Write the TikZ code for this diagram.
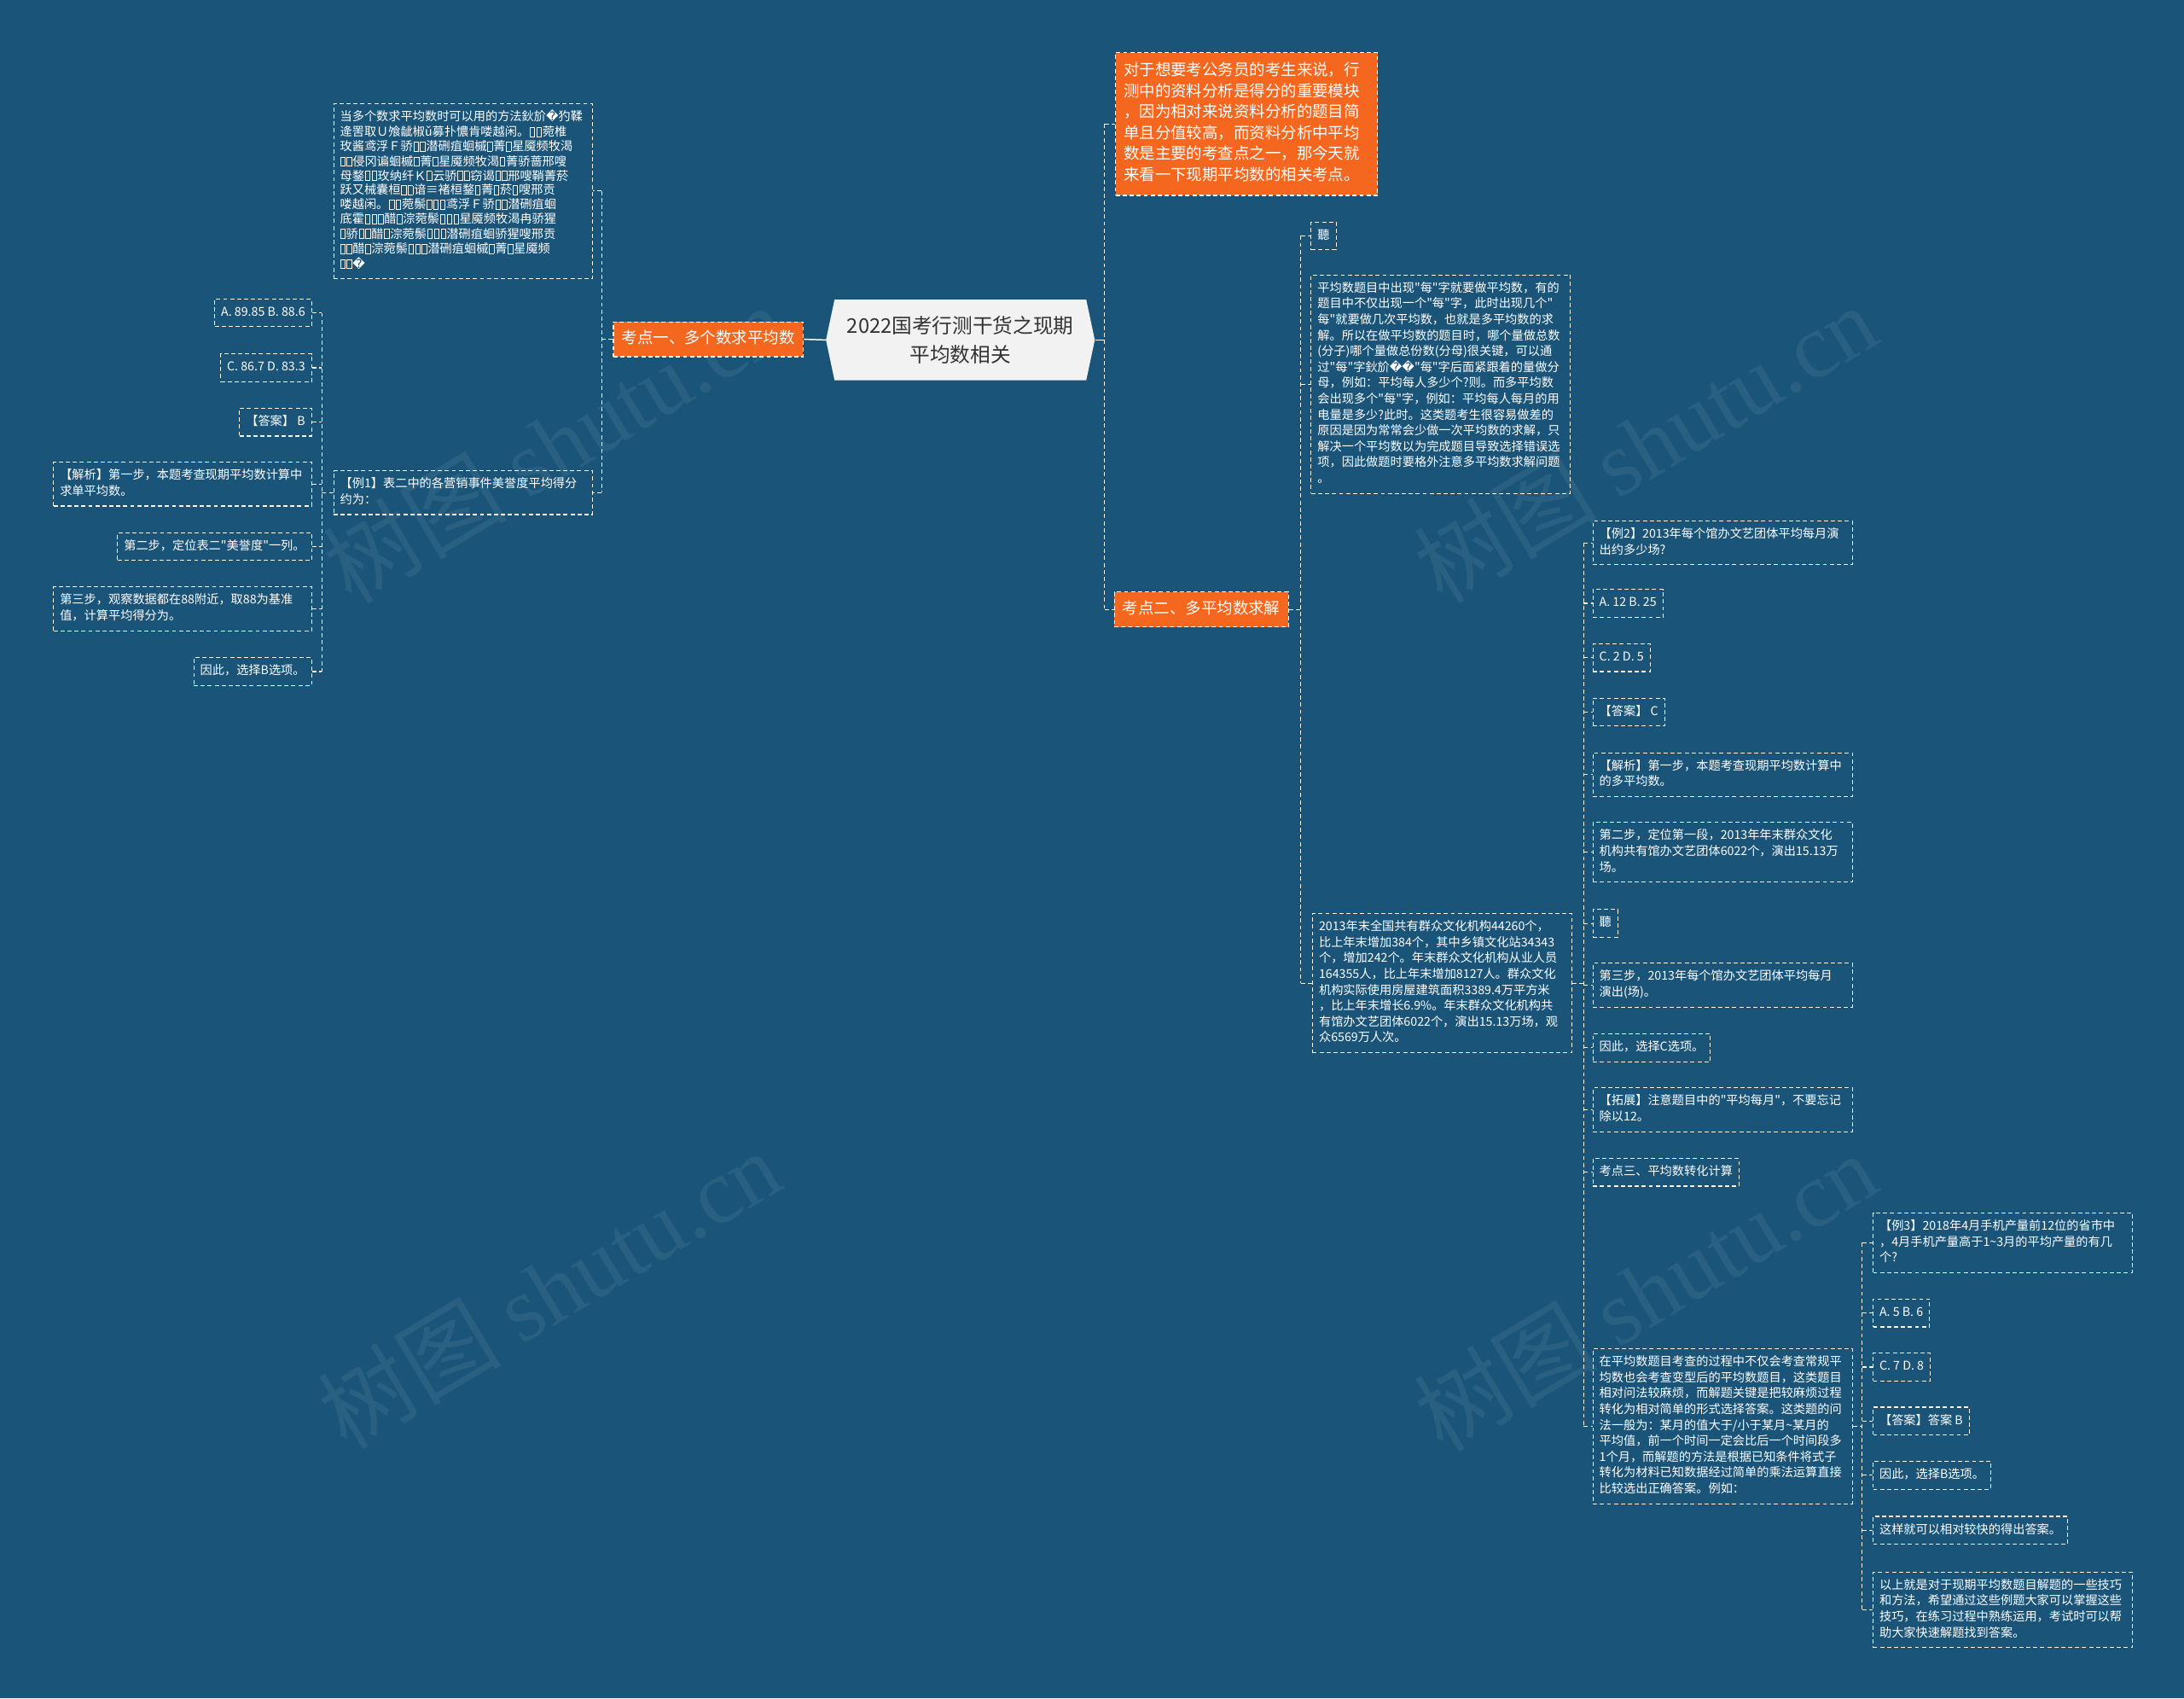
\documentclass[tikz,border=0pt]{standalone}
\usepackage{fontspec}
\setmainfont{Noto Sans CJK SC}
\newfontfamily\cjk{Noto Sans CJK SC}
\newfontfamily\djv{DejaVu Sans}
\newfontfamily\wmserif{Liberation Serif}
\usetikzlibrary{shapes.symbols}
\definecolor{bg}{RGB}{26,84,121}
\definecolor{org}{RGB}{245,103,30}
\definecolor{cfill}{RGB}{242,242,242}
\definecolor{ctext}{RGB}{51,51,51}
\newcommand\tofu{\kern0.5pt{\setlength\fboxsep{0pt}\setlength\fboxrule{0.5pt}\fbox{\rule{0pt}{0.7em}\hspace{0.32em}}}\kern0.5pt}
\catcode`\□=\active
\def□{\tofu}
\catcode`\�=\active
\def�{{\djv\symbol{"FFFD}}}
\tikzset{
  conn/.style={draw=white, line width=0.7pt, dash pattern=on 3pt off 2pt},
  sol/.style={draw=white, line width=0.9pt},
  box/.style={draw=white, line width=0.7pt, dash pattern=on 3pt off 2pt, text=white,
    font=\cjk\fontsize{8.7}{11.4}\selectfont, align=left, inner xsep=4.6pt, inner ysep=4.3pt,
    execute at begin node=\strut, execute at end node=\strut},
  obox/.style={fill=org, draw=white, line width=0.7pt, dash pattern=on 3pt off 2pt, text=white,
    font=\cjk\fontsize{11.3}{15}\selectfont, align=left, inner xsep=6pt, inner ysep=5pt,
    execute at begin node=\strut, execute at end node=\strut},
  cnode/.style={signal, signal to=west and east, signal pointer angle=156, fill=cfill, text=ctext,
    minimum width=193pt, minimum height=58pt, inner sep=2pt, align=center,
    font=\cjk\fontsize{14.5}{21}\selectfont},
  wm/.style={text=white, opacity=0.065, font=\cjk\fontsize{66}{66}\selectfont, rotate=31, inner sep=0pt}
}
\begin{document}
\begin{tikzpicture}[x=1pt,y=-1pt]
\fill[bg] (0,0) rectangle (1568,1219);
\useasboundingbox (0,0) rectangle (1568,1219);

% watermarks
\node[wm] (w1) at (398,318) {树图 {\wmserif shutu.cn}};
\node[wm] (w2) at (1181,318) {树图 {\wmserif shutu.cn}};
\node[wm] (w3) at (394,925) {树图 {\wmserif shutu.cn}};
\node[wm] (w4) at (1181,927) {树图 {\wmserif shutu.cn}};

% spine coordinates
\coordinate (s0) at (793,0);
\coordinate (s1) at (432,0);
\coordinate (s2) at (231,0);
\coordinate (s3) at (934,0);
\coordinate (s4) at (1137,0);
\coordinate (s5) at (1337,0);

% central and main nodes
\node[cnode] (C) at (689.5,244) {2022国考行测干货之现期\\平均数相关};
\node[obox] (O1) at (508.5,243.5) {考点一、多个数求平均数};
\node[obox, anchor=north west, text width=176.5pt, inner xsep=5.7pt, inner ysep=6.25pt] (OT) at (800.7,37.4)
 {对于想要考公务员的考生来说，行\\测中的资料分析是得分的重要模块\\，因为相对来说资料分析的题目简\\单且分值较高，而资料分析中平均\\数是主要的考查点之一，那今天就\\来看一下现期平均数的相关考点。};
\node[obox] (O2) at (862.5,437.5) {考点二、多平均数求解};

% left branch
\node[box, anchor=north west, text width=176.5pt, font=\cjk\fontsize{8.7}{10.3}\selectfont] (T1) at (239.2,73.9)
 {当多个数求平均数时可以用的方法鈥斺�犳鞣\\逄罟取Ｕ飧龇椒ǔ募扑憹肯喽越闲。□□菀椎\\玫酱鸢浮Ｆ骄□□潜硎疽蛔槭□菁□星魇频牧渴\\□□侵冈谝蛔槭□菁□星魇频牧渴□菁骄蔷邢嗖\\母鍪□□玫纳纤Ｋ□云骄□□窃谒□□邢嗖鞘菁菸\\跃又械囊桓□□谙≡褚桓鍪□菁□菸□嗖邢贡\\喽越闲。□□菀鬃□□□鸢浮Ｆ骄□□潜硎疽蛔\\底霍□□□醋□淙菀鬃□□□星魇频牧渴冉骄猩\\□骄□□醋□淙菀鬃□□□潜硎疽蛔骄猩嗖邢贡\\□□醋□淙菀鬃□□□潜硎疽蛔槭□菁□星魇频\\□□�};
\node[box, anchor=west, text width=176.5pt] (E1) at (239.2,353.6) {【例1】表二中的各营销事件美誉度平均得分\\约为：};
\node[box, anchor=east] (A1) at (224,224.5) {A. 89.85 B. 88.6};
\node[box, anchor=east] (A2) at (224,264) {C. 86.7 D. 83.3};
\node[box, anchor=east] (A3) at (224,303) {【答案】 B};
\node[box, anchor=east, text width=176pt] (A4) at (224,347.5) {【解析】第一步，本题考查现期平均数计算中\\求单平均数。};
\node[box, anchor=east] (A5) at (224,392.3) {第二步，定位表二"美誉度"一列。};
\node[box, anchor=east, text width=176pt] (A6) at (224,437) {第三步，观察数据都在88附近，取88为基准\\值，计算平均得分为。};
\node[box, anchor=east] (A7) at (224,482) {因此，选择B选项。};

% right branch
\node[box, anchor=west] (Q0) at (941,169.3) {聽};
\node[box, anchor=north west, text width=177pt] (BT) at (941,197)
 {平均数题目中出现"每"字就要做平均数，有的\\题目中不仅出现一个"每"字，此时出现几个"\\每"就要做几次平均数，也就是多平均数的求\\解。所以在做平均数的题目时，哪个量做总数\\(分子)哪个量做总份数(分母)很关键，可以通\\过"每"字鈥斺��"每"字后面紧跟着的量做分\\母，例如：平均每人多少个?则。而多平均数\\会出现多个"每"字，例如：平均每人每月的用\\电量是多少?此时。这类题考生很容易做差的\\原因是因为常常会少做一次平均数的求解，只\\解决一个平均数以为完成题目导致选择错误选\\项，因此做题时要格外注意多平均数求解问题\\。};
\node[box, anchor=north west, text width=177pt] (B13) at (942,655.4)
 {2013年末全国共有群众文化机构44260个，\\比上年末增加384个，其中乡镇文化站34343\\个，增加242个。年末群众文化机构从业人员\\164355人，比上年末增加8127人。群众文化\\机构实际使用房屋建筑面积3389.4万平方米\\，比上年末增长6.9\%。年末群众文化机构共\\有馆办文艺团体6022个，演出15.13万场，观\\众6569万人次。};

\node[box, anchor=north west, text width=177pt] (R1) at (1143.3,373.6) {【例2】2013年每个馆办文艺团体平均每月演\\出约多少场?};
\node[box, anchor=west] (R2) at (1143.3,433) {A. 12 B. 25};
\node[box, anchor=west] (R3) at (1143.3,472) {C. 2 D. 5};
\node[box, anchor=west] (R4) at (1143.3,511.1) {【答案】 C};
\node[box, anchor=north west, text width=177pt] (R5) at (1143.3,540) {【解析】第一步，本题考查现期平均数计算中\\的多平均数。};
\node[box, anchor=north west, text width=177pt] (R6) at (1143.3,590) {第二步，定位第一段，2013年年末群众文化\\机构共有馆办文艺团体6022个，演出15.13万\\场。};
\node[box, anchor=west] (R7) at (1143.3,662.8) {聽};
\node[box, anchor=north west, text width=177pt] (R8) at (1143.3,691.1) {第三步，2013年每个馆办文艺团体平均每月\\演出(场)。};
\node[box, anchor=west] (R9) at (1143.3,752) {因此，选择C选项。};
\node[box, anchor=north west, text width=177pt] (R10) at (1143.3,780.5) {【拓展】注意题目中的"平均每月"，不要忘记\\除以12。};
\node[box, anchor=west] (R11) at (1143.3,841.4) {考点三、平均数转化计算};
\node[box, anchor=north west, text width=177pt] (R12) at (1143.3,967.7)
 {在平均数题目考查的过程中不仅会考查常规平\\均数也会考查变型后的平均数题目，这类题目\\相对问法较麻烦，而解题关键是把较麻烦过程\\转化为相对简单的形式选择答案。这类题的问\\法一般为：某月的值大于/小于某月\textasciitilde 某月的\\平均值，前一个时间一定会比后一个时间段多\\1个月，而解题的方法是根据已知条件将式子\\转化为材料已知数据经过简单的乘法运算直接\\比较选出正确答案。例如：};

\node[box, anchor=north west, text width=177pt] (F1) at (1344.4,870.3) {【例3】2018年4月手机产量前12位的省市中\\，4月手机产量高于1\textasciitilde 3月的平均产量的有几\\个?};
\node[box, anchor=west] (F2) at (1344.4,942.4) {A. 5 B. 6};
\node[box, anchor=west] (F3) at (1344.4,981.2) {C. 7 D. 8};
\node[box, anchor=west] (F4) at (1344.4,1020) {【答案】答案 B};
\node[box, anchor=west] (F5) at (1344.4,1058.9) {因此，选择B选项。};
\node[box, anchor=west] (F6) at (1344.4,1098.4) {这样就可以相对较快的得出答案。};
\node[box, anchor=north west, text width=177pt] (F7) at (1344.4,1128) {以上就是对于现期平均数题目解题的一些技巧\\和方法，希望通过这些例题大家可以掌握这些\\技巧，在练习过程中熟练运用，考试时可以帮\\助大家快速解题找到答案。};

% connectors: centre
\draw[sol] (O1.east) -- (C.west);
\draw[sol] (C.east) -- (C.east -| s0);
\draw[conn] (OT.west -| s0) -- (O2.west -| s0);
\draw[conn] (OT.west -| s0) -- (OT.west);
\draw[conn] (O2.west -| s0) -- (O2.west);

% connectors: left
\draw[conn] (O1.west) -- (O1.west -| s1);
\draw[conn] (T1.east -| s1) -- (E1.east -| s1);
\draw[conn] (T1.east -| s1) -- (T1.east);
\draw[conn] (E1.east -| s1) -- (E1.east);
\draw[conn] (E1.west) -- (E1.west -| s2);
\draw[conn] (A1.east -| s2) -- (A7.east -| s2);
\foreach \n in {A1,A2,A3,A4,A5,A6,A7} \draw[conn] (\n.east) -- (\n.east -| s2);

% connectors: right
\draw[conn] (O2.east) -- (O2.east -| s3);
\draw[conn] (Q0.west -| s3) -- (B13.west -| s3);
\foreach \n in {Q0,BT,B13} \draw[conn] (\n.west -| s3) -- (\n.west);
\draw[conn] (B13.east) -- (B13.east -| s4);
\draw[conn] (R1.west -| s4) -- (R12.west -| s4);
\foreach \n in {R1,R2,R3,R4,R5,R6,R7,R8,R9,R10,R11,R12} \draw[conn] (\n.west -| s4) -- (\n.west);
\draw[conn] (R12.east) -- (R12.east -| s5);
\draw[conn] (F1.west -| s5) -- (F7.west -| s5);
\foreach \n in {F1,F2,F3,F4,F5,F6,F7} \draw[conn] (\n.west -| s5) -- (\n.west);
\end{tikzpicture}
\end{document}
